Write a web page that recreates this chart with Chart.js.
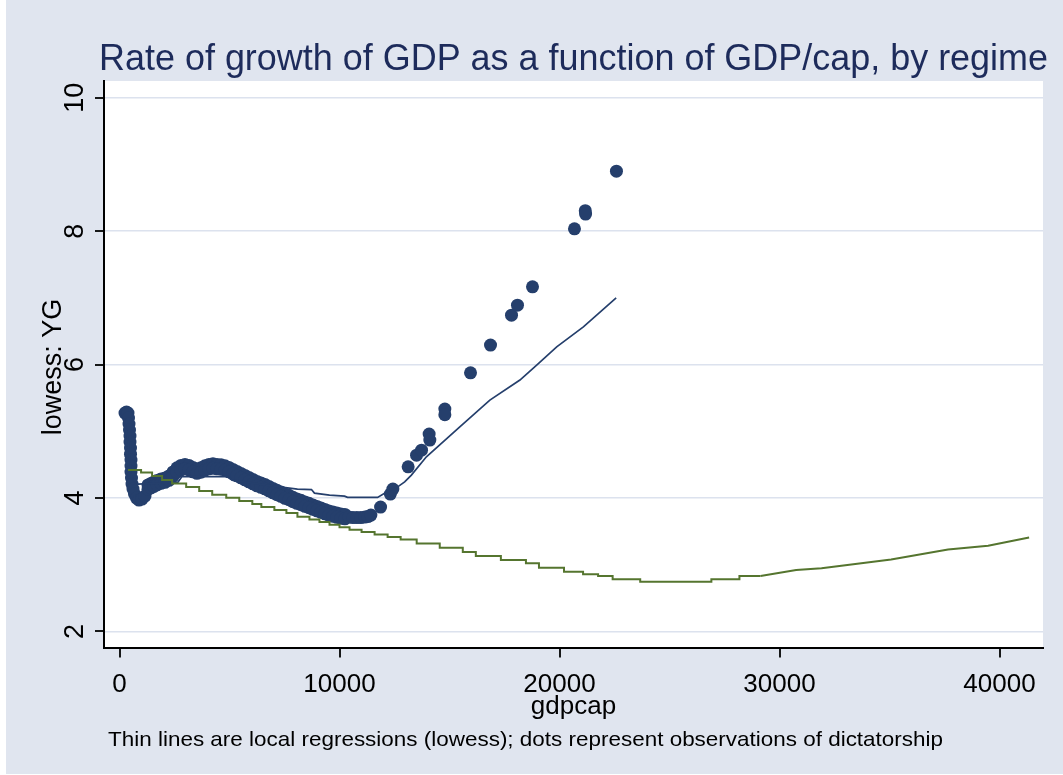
<!DOCTYPE html>
<html>
<head>
<meta charset="utf-8">
<script src="https://cdn.jsdelivr.net/npm/chart.js@4.4.1/dist/chart.umd.min.js"></script>
<style>
  html, body { margin: 0; padding: 0; background: #ffffff; }
  #wrap { width: 1063px; height: 775px; }
</style>
</head>
<body>
<div id="wrap"><canvas id="c" width="1063" height="775"></canvas></div>
<script>
// Dictatorship observations (gdpcap, smoothed YG): the steep start near zero income
const startX = [250, 318, 386, 409, 432, 454, 477, 477, 500, 500, 522, 522, 522, 545, 568, 613, 681, 772, 886, 1022, 1158];
const startY = [5.273, 5.288, 5.273, 5.198, 5.108, 5.018, 4.928, 4.838, 4.748, 4.658, 4.569, 4.479, 4.389, 4.299, 4.209, 4.134, 4.059, 3.999, 3.969, 3.984, 4.029];

// the dense middle stretch, upper and lower edge of the cloud
const bandX = [1295, 1431, 1567, 1704, 1885, 2067, 2249, 2431, 2612, 2794, 2976, 3158, 3339, 3521, 3703, 3885, 4066, 4248, 4430, 4612,
  4793, 4975, 5157, 5338, 5520, 5702, 5883, 6065, 6247, 6429, 6610, 6792, 6974, 7156, 7337, 7519, 7701, 7883, 8064, 8246,
  8428, 8609, 8791, 8973, 9155, 9336, 9518, 9700, 9882, 10063, 10245];
const bandHiY = [4.197, 4.219, 4.242, 4.264, 4.287, 4.302, 4.332, 4.392, 4.452, 4.489, 4.504, 4.489, 4.459, 4.437, 4.452, 4.482, 4.504, 4.512, 4.504, 4.497,
  4.482, 4.459, 4.429, 4.399, 4.369, 4.339, 4.309, 4.279, 4.249, 4.227, 4.204, 4.174, 4.144, 4.115, 4.092, 4.062, 4.040, 4.010, 3.987, 3.965,
  3.942, 3.920, 3.897, 3.875, 3.852, 3.830, 3.807, 3.792, 3.777, 3.762, 3.755];
const bandLoY = [4.131, 4.153, 4.176, 4.198, 4.221, 4.236, 4.266, 4.326, 4.386, 4.423, 4.438, 4.423, 4.393, 4.371, 4.386, 4.416, 4.438, 4.446, 4.438, 4.431,
  4.416, 4.393, 4.363, 4.333, 4.303, 4.273, 4.243, 4.213, 4.183, 4.161, 4.138, 4.108, 4.078, 4.049, 4.026, 3.996, 3.974, 3.944, 3.921, 3.899,
  3.876, 3.854, 3.831, 3.809, 3.786, 3.764, 3.741, 3.726, 3.711, 3.696, 3.689];

// the trough and the sparse climb at higher incomes
const tailX = [10427, 10609, 10790, 10972, 11154, 11290, 11427,
  11866, 12311, 12425, 13120, 13502, 13729, 14074, 14106, 14788, 14788, 15955, 16864, 17818, 18090, 18772, 20680, 21171, 21185, 22588];
const tailY = [3.714, 3.707, 3.707, 3.707, 3.714, 3.722, 3.744,
  3.864, 4.059, 4.134, 4.468, 4.643, 4.718, 4.958, 4.868, 5.333, 5.250, 5.877, 6.292, 6.741, 6.891, 7.166, 8.035, 8.307, 8.255, 8.899];

// Lowess fit, dictatorships
const dictX = [205, 386, 477, 545, 840, 1840, 2658, 2840, 4930, 5111, 6356, 7358, 8087, 8725, 8861, 9545, 10228, 10365, 11731,
  12050, 12643, 12962, 13267, 13950, 15468, 16834, 18201, 18962, 19873, 21085, 22575];
const dictY = [5.198, 4.868, 4.539, 4.299, 4.209, 4.224, 4.239, 4.321, 4.321, 4.269, 4.209, 4.164, 4.134, 4.127, 4.074, 4.044, 4.029, 4.010, 4.010,
  4.070, 4.168, 4.243, 4.344, 4.618, 5.068, 5.468, 5.768, 5.992, 6.266, 6.566, 7.001];

// Lowess fit, democracies: stepped stretch, then smooth tail
const demStepX = [387, 980, 1481, 1936, 2392, 3030, 3622, 4214, 4852, 5444, 6037, 6447, 7039, 7586, 8087, 8634, 9089, 9545, 10000, 10456,
  11003, 11595, 12187, 12779, 13508, 14556, 15604, 16196, 17335, 18474, 19066, 20205, 21071, 21754, 22415, 23668, 26903, 28178, 29135];
const demStepY = [4.419, 4.381, 4.329, 4.269, 4.216, 4.164, 4.104, 4.051, 4.006, 3.954, 3.909, 3.864, 3.819, 3.774, 3.721, 3.677, 3.639, 3.601, 3.564, 3.526,
  3.490, 3.452, 3.415, 3.377, 3.320, 3.254, 3.193, 3.130, 3.070, 3.021, 2.955, 2.895, 2.856, 2.830, 2.781, 2.745, 2.781, 2.830, 2.830];
const demTailX = [29135, 30757, 31910, 35072, 37660, 39482, 41346];
const demTailY = [2.830, 2.920, 2.946, 3.080, 3.230, 3.284, 3.410];

const xTicks = [0, 10000, 20000, 30000, 40000];
const xTickLabels = ['0', '10000', '20000', '30000', '40000'];
const yTicks = [2, 4, 6, 8, 10];
const yTickLabels = ['2', '4', '6', '8', '10'];

const titleText = 'Rate of growth of GDP as a function of GDP/cap, by regime';
const xTitle = 'gdpcap';
const yTitle = 'lowess: YG';
const noteText = 'Thin lines are local regressions (lowess); dots represent observations of dictatorship';

const NAVY = '#253F6C';
const GREEN = '#55752F';
const BG = '#E0E5EF';
const GRID = '#DCE2EE';
const FONT = '"Liberation Sans", Arial, sans-serif';

const pts = (xs, ys) => xs.map((x, i) => ({ x: x, y: ys[i] }));
const observations = [].concat(
  pts(startX, startY), pts(bandX, bandHiY), pts(bandX, bandLoY), pts(tailX, tailY));

function drawText(ctx, s, x, y, o) {
  ctx.save();
  ctx.font = o.size + 'px ' + FONT;
  let sx = o.sx || 1;
  if (o.width) sx = o.width / ctx.measureText(s).width;
  ctx.translate(x, y);
  if (o.rot) ctx.rotate(o.rot);
  ctx.scale(sx, 1);
  ctx.textAlign = o.align || 'center';
  ctx.textBaseline = 'alphabetic';
  ctx.fillStyle = o.color || '#000';
  ctx.fillText(s, 0, 0);
  ctx.restore();
}

const backdrop = {
  id: 'backdrop',
  beforeDraw(chart) {
    const ctx = chart.ctx, a = chart.chartArea;
    ctx.save();
    ctx.fillStyle = '#ffffff';
    ctx.fillRect(0, 0, chart.width, chart.height);
    ctx.fillStyle = BG;
    ctx.fillRect(6, 0, chart.width - 6, chart.height - 1);
    ctx.fillStyle = '#ffffff';
    ctx.fillRect(a.left, a.top, a.right - a.left, a.bottom - a.top);
    ctx.restore();
  }
};

const annotations = {
  id: 'annotations',
  afterDraw(chart) {
    const ctx = chart.ctx, a = chart.chartArea;
    const xs = chart.scales.x, ys = chart.scales.y;
    ctx.save();
    ctx.strokeStyle = '#000';
    ctx.lineWidth = 1.8;
    xTicks.forEach(v => {
      const px = Math.round(xs.getPixelForValue(v));
      ctx.beginPath(); ctx.moveTo(px, a.bottom); ctx.lineTo(px, a.bottom + 10); ctx.stroke();
    });
    yTicks.forEach(v => {
      const py = Math.round(ys.getPixelForValue(v));
      ctx.beginPath(); ctx.moveTo(a.left - 9, py); ctx.lineTo(a.left, py); ctx.stroke();
    });
    ctx.restore();

    xTicks.forEach((v, i) => {
      drawText(ctx, xTickLabels[i], xs.getPixelForValue(v), 692, { size: 26 });
    });
    yTicks.forEach((v, i) => {
      drawText(ctx, yTickLabels[i], 83, ys.getPixelForValue(v), { size: 27, rot: -Math.PI / 2 });
    });
    const mid = (a.left + a.right) / 2;
    drawText(ctx, titleText, mid, 70, { size: 36, width: 949, color: '#1D2B5B' });
    drawText(ctx, xTitle, mid, 714, { size: 26 });
    drawText(ctx, yTitle, 61, 367, { size: 27, rot: -Math.PI / 2 });
    drawText(ctx, noteText, 108, 746, { size: 21, width: 835, align: 'left' });
  }
};

new Chart(document.getElementById('c'), {
  type: 'scatter',
  data: {
    datasets: [
      { label: 'dem-step', data: pts(demStepX, demStepY), showLine: true, stepped: 'before',
        borderColor: GREEN, borderWidth: 2, pointRadius: 0, fill: false, order: 0 },
      { label: 'dem-tail', data: pts(demTailX, demTailY), showLine: true,
        borderColor: GREEN, borderWidth: 2, pointRadius: 0, fill: false, order: 1 },
      { label: 'dict-fit', data: pts(dictX, dictY), showLine: true,
        borderColor: NAVY, borderWidth: 1.7, pointRadius: 0, fill: false, order: 2 },
      { label: 'dict-obs', data: observations, showLine: false,
        backgroundColor: NAVY, pointRadius: 6.5, pointBorderWidth: 0, pointHoverRadius: 6.5, order: 3 }
    ]
  },
  options: {
    responsive: false,
    animation: false,
    devicePixelRatio: 1,
    layout: { padding: { left: 0, right: 20, top: 81, bottom: 0 } },
    plugins: { legend: { display: false }, tooltip: { enabled: false }, title: { display: false } },
    scales: {
      x: {
        type: 'linear', min: -705, max: 41977,
        grid: { display: false },
        border: { display: true, color: '#000', width: 2 },
        ticks: { display: false },
        afterBuildTicks: s => { s.ticks = xTicks.map(v => ({ value: v })); },
        afterFit: s => { s.height = 127.5; }
      },
      y: {
        type: 'linear', min: 1.76, max: 10.25,
        grid: { color: GRID, lineWidth: 1.5, drawTicks: false },
        border: { display: true, color: '#000', width: 2 },
        ticks: { display: false },
        afterBuildTicks: s => { s.ticks = yTicks.map(v => ({ value: v })); },
        afterFit: s => { s.width = 104; }
      }
    }
  },
  plugins: [backdrop, annotations]
});
</script>
</body>
</html>
